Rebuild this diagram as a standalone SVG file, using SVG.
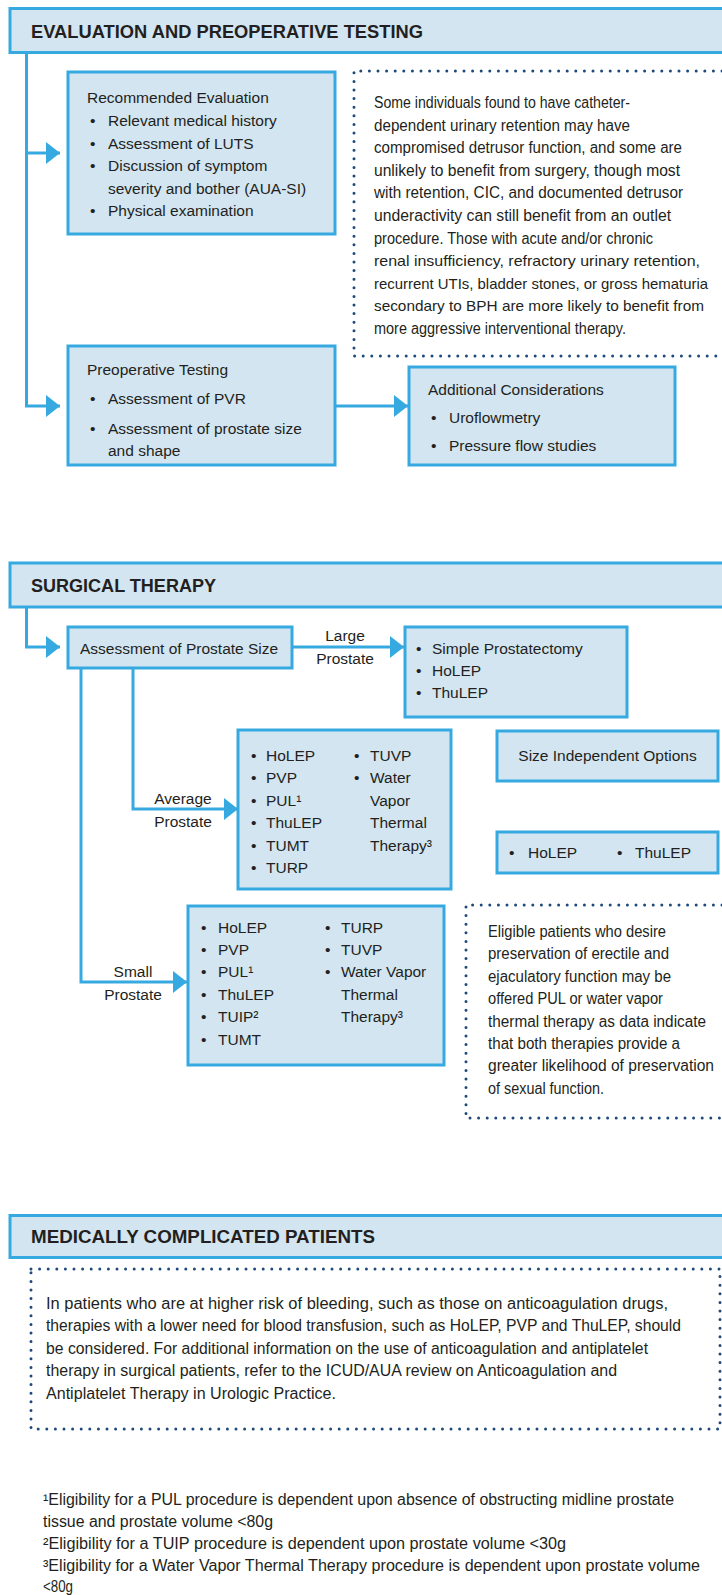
<svg xmlns="http://www.w3.org/2000/svg" width="722" height="1595" viewBox="0 0 722 1595">
<style>
.hdr{fill:#d2e5f1;stroke:#36a9e0;stroke-width:3}
.box{fill:#d2e5f1;stroke:#36a9e0;stroke-width:3}
.dot{fill:none;stroke:#1d4a7a;stroke-width:3;stroke-linecap:round;stroke-dasharray:0 8.6}
.conn{fill:none;stroke:#36a9e0;stroke-width:3}
text{font-family:"Liberation Sans",Arial,sans-serif;font-size:15.5px;fill:#231f20}
.ht{font-weight:bold;font-size:18.5px}
.p{font-size:16px}
.q{font-size:15px}
.mid{text-anchor:middle}
</style>
<defs>
<marker id="ah" viewBox="0 0 14 22" refX="14" refY="11" markerWidth="14" markerHeight="22" markerUnits="userSpaceOnUse" orient="auto">
<path d="M0,0 L14,11 L0,22 Z" fill="#36a9e0"/>
</marker>
</defs>
<rect width="722" height="1595" fill="#ffffff"/>

<g id="connectors">
<path class="conn" d="M26.5,53 V406 H60" marker-end="url(#ah)"/>
<path class="conn" d="M26.5,153 H60" marker-end="url(#ah)"/>
<path class="conn" d="M335,406 H408" marker-end="url(#ah)"/>
<path class="conn" d="M26.5,607 V647 H60" marker-end="url(#ah)"/>
<path class="conn" d="M292,647 H404" marker-end="url(#ah)"/>
<path class="conn" d="M133,668 V809 H238" marker-end="url(#ah)"/>
<path class="conn" d="M81,668 V982 H187" marker-end="url(#ah)"/>
</g>

<g id="header-evaluation">
<rect class="hdr" x="10" y="8.5" width="720" height="44"/>
<text class="ht" x="31" y="38" textLength="392" lengthAdjust="spacingAndGlyphs">EVALUATION AND PREOPERATIVE TESTING</text>
</g>

<g id="recommended-evaluation">
<rect class="box" x="68" y="72" width="267" height="162"/>
<text x="87" y="103">Recommended Evaluation</text>
<text y="126"><tspan x="90">•</tspan><tspan x="108">Relevant medical history</tspan></text>
<text y="148.5"><tspan x="90">•</tspan><tspan x="108">Assessment of LUTS</tspan></text>
<text y="171"><tspan x="90">•</tspan><tspan x="108">Discussion of symptom</tspan></text>
<text x="108" y="193.5">severity and bother (AUA-SI)</text>
<text y="216"><tspan x="90">•</tspan><tspan x="108">Physical examination</tspan></text>
</g>

<g id="note-retention">
<path class="dot" d="M722,71 H354 V356 H722"/>
<text class="p" x="374" y="108" textLength="256" lengthAdjust="spacingAndGlyphs">Some individuals found to have catheter-</text>
<text class="p" x="374" y="130.6" textLength="256" lengthAdjust="spacingAndGlyphs">dependent urinary retention may have</text>
<text class="p" x="374" y="153.2" textLength="308" lengthAdjust="spacingAndGlyphs">compromised detrusor function, and some are</text>
<text class="p" x="374" y="175.8" textLength="306" lengthAdjust="spacingAndGlyphs">unlikely to benefit from surgery, though most</text>
<text class="p" x="374" y="198.4" textLength="309" lengthAdjust="spacingAndGlyphs">with retention, CIC, and documented detrusor</text>
<text class="p" x="374" y="221" textLength="297" lengthAdjust="spacingAndGlyphs">underactivity can still benefit from an outlet</text>
<text class="p" x="374" y="243.6" textLength="279" lengthAdjust="spacingAndGlyphs">procedure. Those with acute and/or chronic</text>
<text class="q" x="374" y="266.2" textLength="326" lengthAdjust="spacingAndGlyphs">renal insufficiency, refractory urinary retention,</text>
<text class="q" x="374" y="288.8" textLength="334" lengthAdjust="spacingAndGlyphs">recurrent UTIs, bladder stones, or gross hematuria</text>
<text class="q" x="374" y="311.4" textLength="330" lengthAdjust="spacingAndGlyphs">secondary to BPH are more likely to benefit from</text>
<text class="p" x="374" y="334" textLength="252" lengthAdjust="spacingAndGlyphs">more aggressive interventional therapy.</text>
</g>

<g id="preoperative-testing">
<rect class="box" x="68" y="346" width="267" height="119"/>
<text x="87" y="374.5">Preoperative Testing</text>
<text y="404"><tspan x="90">•</tspan><tspan x="108">Assessment of PVR</tspan></text>
<text y="433.5"><tspan x="90">•</tspan><tspan x="108">Assessment of prostate size</tspan></text>
<text x="108" y="455.5">and shape</text>
</g>

<g id="additional-considerations">
<rect class="box" x="409" y="367" width="266" height="98"/>
<text x="428" y="395">Additional Considerations</text>
<text y="423"><tspan x="431">•</tspan><tspan x="449">Uroflowmetry</tspan></text>
<text y="451"><tspan x="431">•</tspan><tspan x="449">Pressure flow studies</tspan></text>
</g>

<g id="header-surgical">
<rect class="hdr" x="10" y="563" width="720" height="44"/>
<text class="ht" x="31" y="592" textLength="185" lengthAdjust="spacingAndGlyphs">SURGICAL THERAPY</text>
</g>

<g id="assessment-size">
<rect class="box" x="68" y="627" width="224" height="41"/>
<text x="80" y="653.5">Assessment of Prostate Size</text>
</g>

<g id="label-large">
<text class="mid" x="345" y="641">Large</text>
<text class="mid" x="345" y="664">Prostate</text>
</g>

<g id="large-prostate">
<rect class="box" x="405" y="627" width="222" height="90"/>
<text y="654"><tspan x="416">•</tspan><tspan x="432">Simple Prostatectomy</tspan></text>
<text y="676"><tspan x="416">•</tspan><tspan x="432">HoLEP</tspan></text>
<text y="698"><tspan x="416">•</tspan><tspan x="432">ThuLEP</tspan></text>
</g>

<g id="label-average">
<text class="mid" x="183" y="804">Average</text>
<text class="mid" x="183" y="827">Prostate</text>
</g>

<g id="average-prostate">
<rect class="box" x="238" y="730" width="213" height="159"/>
<text y="760.5"><tspan x="251">•</tspan><tspan x="266">HoLEP</tspan></text>
<text y="783"><tspan x="251">•</tspan><tspan x="266">PVP</tspan></text>
<text y="805.5"><tspan x="251">•</tspan><tspan x="266">PUL¹</tspan></text>
<text y="828"><tspan x="251">•</tspan><tspan x="266">ThuLEP</tspan></text>
<text y="850.5"><tspan x="251">•</tspan><tspan x="266">TUMT</tspan></text>
<text y="873"><tspan x="251">•</tspan><tspan x="266">TURP</tspan></text>
<text y="760.5"><tspan x="354">•</tspan><tspan x="370">TUVP</tspan></text>
<text y="783"><tspan x="354">•</tspan><tspan x="370">Water</tspan></text>
<text x="370" y="805.5">Vapor</text>
<text x="370" y="828">Thermal</text>
<text x="370" y="850.5">Therapy³</text>
</g>

<g id="size-independent">
<rect class="box" x="497" y="731" width="221" height="50"/>
<text class="mid" x="607.5" y="761">Size Independent Options</text>
</g>

<g id="size-independent-list">
<rect class="box" x="497" y="832" width="221" height="41"/>
<text y="858"><tspan x="509">•</tspan><tspan x="528">HoLEP</tspan><tspan x="617">•</tspan><tspan x="635">ThuLEP</tspan></text>
</g>

<g id="label-small">
<text class="mid" x="133" y="977">Small</text>
<text class="mid" x="133" y="1000">Prostate</text>
</g>

<g id="small-prostate">
<rect class="box" x="188" y="906" width="256" height="159"/>
<text y="932.5"><tspan x="201">•</tspan><tspan x="218">HoLEP</tspan></text>
<text y="954.9"><tspan x="201">•</tspan><tspan x="218">PVP</tspan></text>
<text y="977.3"><tspan x="201">•</tspan><tspan x="218">PUL¹</tspan></text>
<text y="999.7"><tspan x="201">•</tspan><tspan x="218">ThuLEP</tspan></text>
<text y="1022.1"><tspan x="201">•</tspan><tspan x="218">TUIP²</tspan></text>
<text y="1044.5"><tspan x="201">•</tspan><tspan x="218">TUMT</tspan></text>
<text y="932.5"><tspan x="325">•</tspan><tspan x="341">TURP</tspan></text>
<text y="954.9"><tspan x="325">•</tspan><tspan x="341">TUVP</tspan></text>
<text y="977.3"><tspan x="325">•</tspan><tspan x="341">Water Vapor</tspan></text>
<text x="341" y="999.7">Thermal</text>
<text x="341" y="1022.1">Therapy³</text>
</g>

<g id="note-preservation">
<path class="dot" d="M722,905 H466 V1118 H722"/>
<text class="p" x="488" y="937" textLength="178" lengthAdjust="spacingAndGlyphs">Eligible patients who desire</text>
<text class="p" x="488" y="959.4" textLength="181" lengthAdjust="spacingAndGlyphs">preservation of erectile and</text>
<text class="p" x="488" y="981.8" textLength="183" lengthAdjust="spacingAndGlyphs">ejaculatory function may be</text>
<text class="p" x="488" y="1004.2" textLength="175" lengthAdjust="spacingAndGlyphs">offered PUL or water vapor</text>
<text class="p" x="488" y="1026.6" textLength="218" lengthAdjust="spacingAndGlyphs">thermal therapy as data indicate</text>
<text class="p" x="488" y="1049" textLength="192" lengthAdjust="spacingAndGlyphs">that both therapies provide a</text>
<text class="p" x="488" y="1071.4" textLength="226" lengthAdjust="spacingAndGlyphs">greater likelihood of preservation</text>
<text class="p" x="488" y="1093.8" textLength="116" lengthAdjust="spacingAndGlyphs">of sexual function.</text>
</g>

<g id="header-medically">
<rect class="hdr" x="10" y="1215.5" width="720" height="42"/>
<text class="ht" x="31" y="1243" textLength="344" lengthAdjust="spacingAndGlyphs">MEDICALLY COMPLICATED PATIENTS</text>
</g>

<g id="note-bleeding">
<rect class="dot" x="31" y="1269" width="689" height="160"/>
<text class="p" x="46" y="1309" textLength="622" lengthAdjust="spacingAndGlyphs">In patients who are at higher risk of bleeding, such as those on anticoagulation drugs,</text>
<text class="p" x="46" y="1331.4" textLength="635" lengthAdjust="spacingAndGlyphs">therapies with a lower need for blood transfusion, such as HoLEP, PVP and ThuLEP, should</text>
<text class="p" x="46" y="1353.8" textLength="602" lengthAdjust="spacingAndGlyphs">be considered. For additional information on the use of anticoagulation and antiplatelet</text>
<text class="p" x="46" y="1376.2" textLength="571" lengthAdjust="spacingAndGlyphs">therapy in surgical patients, refer to the ICUD/AUA review on Anticoagulation and</text>
<text class="p" x="46" y="1398.6" textLength="290" lengthAdjust="spacingAndGlyphs">Antiplatelet Therapy in Urologic Practice.</text>
</g>

<g id="footnotes">
<text class="p" x="43" y="1505" textLength="631" lengthAdjust="spacingAndGlyphs">¹Eligibility for a PUL procedure is dependent upon absence of obstructing midline prostate</text>
<text class="p" x="43" y="1527" textLength="230" lengthAdjust="spacingAndGlyphs">tissue and prostate volume &lt;80g</text>
<text class="p" x="43" y="1549" textLength="523" lengthAdjust="spacingAndGlyphs">²Eligibility for a TUIP procedure is dependent upon prostate volume &lt;30g</text>
<text class="p" x="43" y="1571" textLength="657" lengthAdjust="spacingAndGlyphs">³Eligibility for a Water Vapor Thermal Therapy procedure is dependent upon prostate volume</text>
<text class="p" x="43" y="1592" textLength="30" lengthAdjust="spacingAndGlyphs">&lt;80g</text>
</g>
</svg>
